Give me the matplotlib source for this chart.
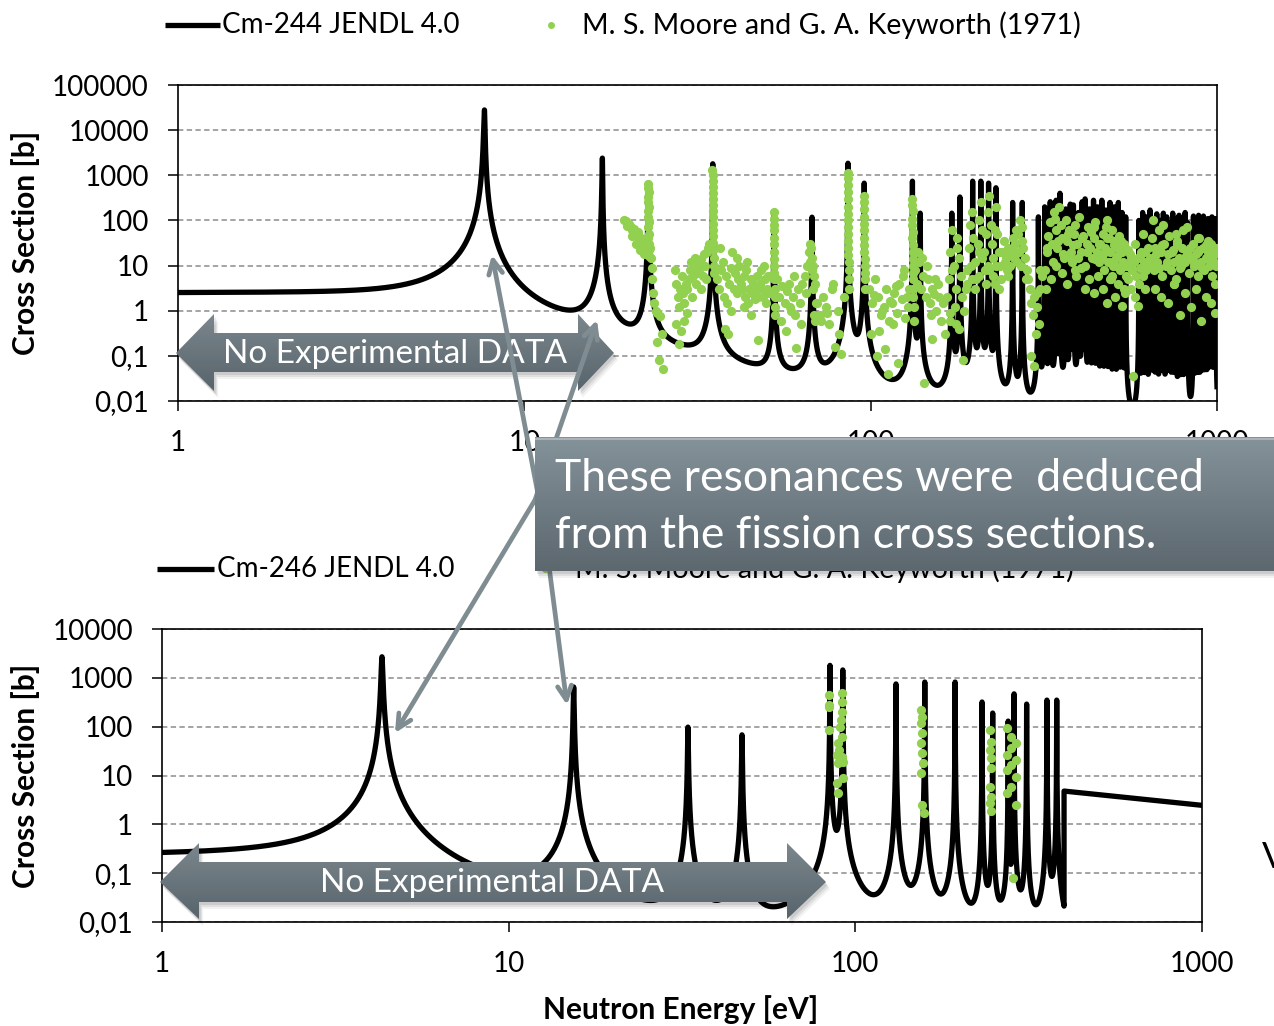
import numpy as np
import matplotlib
matplotlib.use("Agg")
import matplotlib.pyplot as plt
from matplotlib.patches import Polygon
from matplotlib.colors import LinearSegmentedColormap
from matplotlib.ticker import FixedLocator, FixedFormatter, NullLocator

plt.rcParams['font.family'] = ['Lato', 'DejaVu Sans']

# ---------------- data ----------------
x_ticks = [1, 10, 100, 1000]
x_labels = ['1', '10', '100', '1000']
top_y_ticks = [0.01, 0.1, 1, 10, 100, 1000, 10000, 100000]
top_y_labels = ['0,01', '0,1', '1', '10', '100', '1000', '10000', '100000']
bot_y_ticks = [0.01, 0.1, 1, 10, 100, 1000, 10000]
bot_y_labels = ['0,01', '0,1', '1', '10', '100', '1000', '10000']

# Cm-244 JENDL 4.0 resonances (energy eV, peak b, half width eV, right/left width ratio)
top_res_E = [7.67, 16.8, 22.8, 35.0, 52.6, 67.7, 86.0, 95.8, 132, 139, 171.5, 181, 197, 208, 219, 230,
             257, 274, 305, 318, 330, 343, 352, 366, 377, 385, 398, 408, 416, 428, 440, 452, 465, 478,
             491, 505, 519, 532, 545, 595, 610, 625, 641, 655, 670, 686, 700, 716, 730, 745, 760, 777,
             793, 809, 822, 855, 870, 885, 900, 914, 928, 942, 955, 967, 980, 992]
top_res_h = [28000, 2400, 670, 1800, 145, 118, 1850, 670, 740, 145, 145, 330, 740, 740, 670, 530,
             250, 250, 120, 200, 260, 280, 400, 180, 230, 220, 150, 260, 300, 180, 280, 200, 280, 170,
             250, 200, 250, 150, 120, 100, 150, 120, 170, 110, 140, 100, 145, 120, 90, 145, 110, 130,
             100, 150, 90, 125, 100, 130, 90, 125, 100, 110, 90, 120, 100, 110]
top_res_g = [0.030, 0.035, 0.035, 0.024, 0.045, 0.068, 0.049, 0.061, 0.052, 0.083, 0.083, 0.067, 0.052,
             0.052, 0.055, 0.053, 0.063, 0.063, 0.091, 0.071, 0.062, 0.060, 0.050, 0.075, 0.066, 0.067,
             0.082, 0.062, 0.058, 0.075, 0.060, 0.071, 0.060, 0.077, 0.063, 0.071, 0.063, 0.082, 0.091,
             0.100, 0.082, 0.091, 0.077, 0.095, 0.085, 0.100, 0.083, 0.091, 0.105, 0.083, 0.095, 0.088,
             0.100, 0.082, 0.105, 0.089, 0.100, 0.088, 0.105, 0.089, 0.100, 0.095, 0.105, 0.091, 0.100,
             0.095]
top_res_asym = [0.75, 0.7]
top_bg = (2.0, 6.0)   # plateau (b), roll-off energy (eV)

# Cm-246 JENDL 4.0 resonances
bot_res_E = [4.31, 15.4, 32.9, 47.1, 84.5, 92.0, 131, 158.6, 194, 232, 249, 276, 287, 312, 357, 381]
bot_res_h = [2700, 650, 98, 68, 1800, 1450, 750, 820, 820, 320, 190, 130, 470, 290, 350, 350]
bot_res_g = [0.0220, 0.039, 0.064, 0.086, 0.055, 0.059, 0.077, 0.078, 0.078, 0.079, 0.089, 0.107,
             0.080, 0.100, 0.131, 0.131]
bot_bg = (0.15, 3.5)
bot_res_end = 400.0
bot_tail_E = [400, 1000]
bot_tail_xs = [4.8, 2.45]

# M. S. Moore and G. A. Keyworth (1971) -- top panel, read cluster by cluster
mk_E1 = [19.4, 19.7, 19.9, 20.1, 20.3, 20.5, 20.7, 20.9, 21.1, 21.3, 21.5, 21.7, 21.9, 22.1, 22.3, 22.5,
         19.8, 20.4, 21.0, 21.6, 22.2]
mk_s1 = [100, 95, 80, 85, 70, 60, 65, 50, 45, 55, 35, 40, 30, 25, 35, 20, 75, 45, 30, 22, 18]
mk_E2 = [22.75, 22.8, 22.85, 22.8, 22.75, 22.85, 22.8, 22.75, 22.85, 22.8, 22.9, 22.8, 22.85, 22.9, 22.95]
mk_s2 = [650, 520, 420, 330, 260, 200, 160, 120, 90, 70, 50, 40, 30, 22, 16]
mk_E3 = [23.1, 23.2, 23.3, 23.4, 23.5, 23.7, 24.0, 24.2, 24.6, 25.0, 24.2, 24.5, 25.1]
mk_s3 = [25, 15, 9, 5, 2.5, 1.5, 1.0, 0.9, 0.75, 0.3, 0.2, 0.08, 0.05]
mk_E4 = [27.2, 27.5, 27.7, 28.0, 28.2, 28.5, 28.7, 29.0, 29.2, 29.5, 29.8, 30.0, 30.3, 30.6, 30.9, 31.2,
         31.5, 31.8, 32.1, 32.4, 32.7, 33.0, 33.3, 33.6, 33.9, 34.2, 27.4, 28.4, 29.4, 30.4, 31.4, 32.4,
         33.4, 27.9, 28.9]
mk_s4 = [8, 4, 2, 1.2, 3, 6, 2.5, 1.5, 4, 3, 5, 8, 12, 6, 10, 15, 7, 11, 9, 14, 6, 18, 10, 20, 25, 30,
         0.5, 0.35, 0.9, 2, 4, 3, 5, 0.18, 0.6]
mk_E5 = [34.9, 35.0, 35.05, 35.0, 34.95, 35.0, 35.05, 35.0, 34.95, 35.1, 35.0, 35.05, 35.1, 35.15, 35.2,
         35.25, 35.3]
mk_s5 = [1300, 1000, 750, 550, 400, 300, 220, 160, 120, 85, 60, 45, 32, 22, 15, 10, 7]
mk_E6 = [36.0, 36.5, 37.0, 37.4, 37.8, 38.2, 38.6, 39.0, 39.4, 39.8, 40.2, 40.6, 41.0, 41.4, 41.8, 42.2,
         42.6, 43.0, 43.4, 43.8, 44.2, 44.6, 45.0, 45.4, 45.8, 46.2, 46.6, 47.0, 47.4, 47.8, 48.2, 48.6,
         49.0, 49.4, 49.8, 50.2, 50.6, 51.0, 36.8, 38.0, 39.6, 41.2, 43.2, 45.2, 47.2, 49.2, 38.8, 44.0]
mk_s6 = [5, 3, 8, 12, 2, 6, 1.5, 4, 9, 20, 3, 7, 2.5, 5, 10, 4, 3, 6, 2, 8, 1.5, 3, 5, 2.5, 4, 1.8, 3,
         6, 2, 4, 8, 3, 2, 5, 1.5, 3, 6, 2.5, 25, 0.4, 1, 15, 1.2, 0.8, 0.22, 10, 0.3, 12]
mk_E7 = [52.5, 52.6, 52.65, 52.6, 52.55, 52.6, 52.7, 52.6, 52.65, 52.7, 52.75, 52.8, 52.85, 52.9, 53.0]
mk_s7 = [150, 110, 80, 60, 40, 30, 20, 14, 10, 7, 5, 3, 2, 1.2, 0.8]
mk_E8 = [53.5, 54.5, 55.5, 56.5, 57.5, 58.5, 59.5, 60.5, 61.5, 62.5, 63.5, 64.5, 65.5, 55.0, 57.0, 59.0,
         61.0, 63.0, 65.0, 58.0, 60.0]
mk_s8 = [5, 2, 3.5, 1.5, 2.8, 1.2, 2, 0.8, 3, 1.5, 4, 6, 10, 0.6, 0.35, 1, 0.15, 0.5, 2.5, 4, 6]
mk_E9 = [66.5, 67.0, 67.5, 68.0, 68.5, 69.0, 67.2, 67.8, 68.2, 66.8, 69.5, 68.8, 69.2]
mk_s9 = [20, 30, 15, 10, 6, 4, 25, 8, 3, 12, 1.5, 0.8, 0.6]
mk_E10 = [70, 71.5, 73, 74.5, 76, 77.5, 79, 80.5, 82, 83.5, 72, 75, 78, 81]
mk_s10 = [1.5, 0.8, 2, 1.2, 0.5, 3, 0.16, 1, 0.11, 2, 0.6, 0.9, 4, 0.3]
mk_E11 = [85.9, 86.0, 86.05, 86.0, 85.95, 86.0, 86.05, 86.1, 86.0, 86.1, 86.15, 86.2, 86.25, 86.3, 86.4,
          86.5, 86.6]
mk_s11 = [1150, 850, 600, 420, 300, 200, 140, 100, 70, 50, 35, 25, 17, 12, 8, 5, 3]
mk_E12 = [95.7, 95.8, 95.85, 95.8, 95.75, 95.85, 95.9, 95.8, 95.95, 96.0, 96.1, 96.2, 96.3, 96.5]
mk_s12 = [350, 250, 180, 120, 85, 60, 40, 28, 20, 14, 10, 7, 5, 3]
mk_E13 = [99, 101, 103, 105, 107, 109, 111, 113, 115, 117, 119, 121, 123, 125, 127, 129, 100, 104, 108,
          112, 116, 120, 124, 128, 102, 110, 118, 126, 106, 114]
mk_s13 = [3, 1.5, 5, 2, 0.8, 1.2, 3, 0.6, 1.5, 2.5, 0.9, 4, 1.8, 8, 2, 3, 0.3, 0.1, 1, 0.04, 0.5, 0.07,
          6, 1.2, 2.2, 0.14, 3.5, 0.7, 0.35, 1.6]
mk_E14 = [131.9, 132.0, 132.1, 132.0, 131.9, 132.1, 132.0, 132.2, 132.1, 132.3, 132.2, 132.4, 132.5,
          132.6, 132.8, 133.0, 133.3]
mk_s14 = [300, 220, 160, 110, 80, 55, 40, 28, 20, 14, 10, 7, 5, 3, 2, 1.2, 0.6]
mk_E15 = [134, 136, 138, 140, 142, 144, 146, 148, 150, 152, 154, 156, 158, 160, 162, 164, 137, 141, 145,
          149, 153, 143, 150]
mk_s15 = [8, 4, 12, 3, 6, 2, 5, 1.5, 3, 2.4, 1, 4, 2, 0.6, 1.5, 0.3, 20, 15, 10, 0.8, 5, 0.025, 0.24]
mk_E16 = [166, 168, 170, 172, 174, 176, 178, 180, 182, 184, 186, 188, 190, 192, 194, 196, 198, 200, 202,
          204, 206, 208, 210, 212, 214, 216, 218, 220, 222, 224, 226, 228, 230, 232, 234, 236, 238, 170,
          175, 180, 185, 190, 195, 200, 205, 210, 215, 220, 225, 230, 235, 172, 178, 196, 206, 218, 228,
          176, 169]
mk_s16 = [2, 5, 20, 60, 10, 3, 40, 15, 6, 2, 1, 3, 8, 25, 80, 150, 40, 12, 5, 30, 100, 250, 60, 20, 8,
          50, 150, 350, 80, 30, 15, 60, 200, 50, 20, 10, 5, 0.6, 1.2, 0.4, 0.08, 4, 10, 3, 6, 15, 4, 8,
          6, 10, 3, 8, 25, 5, 20, 10, 4, 0.5, 0.9]
mk_E17 = [240, 243, 246, 249, 252, 255, 258, 261, 264, 267, 270, 273, 276, 279, 282, 244, 250, 256, 262,
          268, 274, 280, 247, 259, 271]
mk_s17 = [20, 35, 15, 25, 10, 18, 40, 30, 12, 50, 100, 70, 25, 15, 8, 12, 6, 22, 60, 20, 35, 5, 8, 15,
          10]
mk_E18 = [285, 288, 291, 294, 297, 300, 303, 306, 309, 312, 290, 296, 302, 308]
mk_s18 = [5, 3, 1.5, 0.8, 2, 0.3, 1.2, 0.5, 3, 6, 0.1, 0.06, 2.5, 8]
mk_E19 = [318, 322, 326, 330, 334, 338, 342, 346, 350, 354, 358, 362, 366, 370, 374, 378, 382, 386, 390,
          395, 400, 405, 410, 415, 420, 425, 430, 435, 440, 445, 450, 455, 320, 332, 344, 356, 368, 380,
          392, 404, 416, 428, 440, 452]
mk_s19 = [8, 20, 45, 90, 30, 150, 60, 25, 200, 80, 40, 15, 100, 35, 60, 20, 12, 50, 80, 30, 120, 20, 45,
          10, 30, 70, 25, 15, 40, 90, 20, 12, 3, 5, 10, 7, 4, 15, 6, 9, 3, 5, 2.5, 6]
mk_E20 = [460, 464, 468, 472, 476, 480, 484, 488, 492, 496, 500, 505, 510, 515, 520, 525, 530, 535, 540,
          545, 470, 482, 494, 506, 518, 530, 542, 478, 498, 512]
mk_s20 = [30, 15, 50, 8, 25, 100, 12, 40, 20, 60, 10, 35, 15, 25, 45, 8, 20, 12, 30, 6, 3, 1.5, 5, 2, 4,
          1.3, 2.5, 70, 6, 10]
mk_E21 = [550, 555, 560, 565, 570, 575, 580, 585, 590, 595, 600, 605, 610, 615, 620, 625, 630, 635, 572,
          590]
mk_s21 = [10, 5, 18, 3, 8, 12, 2, 6, 15, 4, 9, 20, 6, 12, 3, 8, 25, 10, 0.035, 1.3]
mk_E22 = [640, 648, 656, 664, 672, 680, 688, 696, 704, 712, 720, 728, 736, 744, 752, 760, 768, 776, 784,
          792, 800, 810, 820, 830, 840, 850, 860, 870, 880, 890, 900, 910, 920, 930, 940, 950, 960, 970,
          980, 990, 1000, 660, 690, 720, 750, 780, 810, 840, 870, 900, 930, 960, 990, 700, 760, 820, 880,
          940, 985, 655]
mk_s22 = [15, 40, 8, 25, 12, 60, 20, 6, 30, 10, 18, 45, 8, 22, 12, 5, 35, 15, 9, 25, 60, 12, 20, 7, 15,
          30, 10, 18, 6, 40, 12, 25, 8, 15, 20, 10, 30, 6, 12, 18, 25, 3, 2, 1.5, 4, 0.8, 2.5, 1.2, 3, 0.6,
          2, 1.5, 4, 80, 50, 70, 40, 35, 0.9, 100]
mk_E23 = [324, 336, 348, 360, 372, 384, 396, 408, 420, 432, 444, 456, 468, 480, 492, 504, 516, 528, 540,
          552, 564, 580, 600, 620, 644, 668, 692, 716, 740, 764, 788, 812, 836, 860, 884, 908, 932, 956,
          980, 995, 340, 390, 440, 490, 540, 610, 680, 750, 820, 890, 960]
mk_s23 = [25, 12, 35, 18, 50, 28, 15, 40, 20, 55, 14, 30, 18, 40, 12, 28, 16, 35, 10, 22, 14, 30, 16,
          20, 10, 18, 28, 12, 20, 30, 10, 16, 25, 12, 20, 9, 28, 14, 22, 10, 110, 8, 70, 5, 3, 50, 9, 4,
          18, 22, 12]

# M. S. Moore and G. A. Keyworth (1971) -- bottom panel
mkb_E = [84.0, 84.1, 84.0, 84.1,
         91.3, 91.3, 91.5, 91.0, 90.6, 91.5, 89.2, 89.5, 88.3, 91.3, 92.2, 89.2, 92.2, 88.6, 89.2,
         155, 156, 155, 156, 155, 156, 157, 155, 156, 158,
         245, 247, 245, 247, 246, 245, 247, 245, 246,
         273, 282, 291, 282, 273, 291, 282, 273, 291, 282, 273, 291, 285]
mkb_s = [445, 276, 250, 85,
         490, 316, 198, 136, 98, 61, 46, 33, 26, 24, 19, 18, 8.9, 7, 4.4,
         218, 158, 118, 74, 46, 29, 18, 11.2, 2.5, 1.7,
         85, 48, 33, 23, 14, 5.8, 3.6, 2.7, 1.9,
         93, 61, 46, 36, 26, 21, 16.5, 13, 9.3, 5.8, 4.4, 2.5, 0.08]

# ---------------- model curve from the resonance table ----------------
def resonance_curve(E, Er, h, g, asym, bg):
    b0, ec = bg
    s = b0 / (1.0 + (E / ec) ** 2)
    asym_full = list(asym) + [1.0] * (len(Er) - len(asym))
    for Ei, hi, gi, ai in zip(Er, h, g, asym_full):
        gg = np.where(E < Ei, gi, gi * ai)
        s = s + hi * gg ** 2 / ((E - Ei) ** 2 + gg ** 2)
    return s

E_top = np.unique(np.concatenate([np.logspace(0, 3, 90000), np.array(top_res_E)]))
xs_top = resonance_curve(E_top, top_res_E, top_res_h, top_res_g, top_res_asym, top_bg)

E_bot = np.logspace(0, np.log10(bot_res_end), 80000)
E_bot = np.unique(np.concatenate([E_bot, np.array(bot_res_E)]))
xs_bot = resonance_curve(E_bot, bot_res_E, bot_res_h, bot_res_g, [], bot_bg)
E_bot_all = np.concatenate([E_bot, bot_tail_E])
xs_bot_all = np.concatenate([xs_bot, bot_tail_xs])

top_mk_E = np.concatenate([mk_E1, mk_E2, mk_E3, mk_E4, mk_E5, mk_E6, mk_E7, mk_E8, mk_E9, mk_E10, mk_E11,
                           mk_E12, mk_E13, mk_E14, mk_E15, mk_E16, mk_E17, mk_E18, mk_E19, mk_E20,
                           mk_E21, mk_E22, mk_E23])
top_mk_s = np.concatenate([mk_s1, mk_s2, mk_s3, mk_s4, mk_s5, mk_s6, mk_s7, mk_s8, mk_s9, mk_s10, mk_s11,
                           mk_s12, mk_s13, mk_s14, mk_s15, mk_s16, mk_s17, mk_s18, mk_s19, mk_s20,
                           mk_s21, mk_s22, mk_s23])

# ---------------- figure ----------------
W, H = 1274, 1026
fig = plt.figure(figsize=(W / 100, H / 100), dpi=100)
fig.patch.set_facecolor('white')

def px_axes(l, t, r, b, z=1):
    return fig.add_axes([l / W, 1 - b / H, (r - l) / W, (b - t) / H], zorder=z)

GREEN = '#92d050'
GRID = '#8c8c8c'
LW = 3.8
MS = 44

def style(ax, yticks, ylabels):
    ax.set_xscale('log')
    ax.set_yscale('log')
    ax.set_xlim(1, 1000)
    ax.set_ylim(yticks[0], yticks[-1])
    ax.xaxis.set_major_locator(FixedLocator(x_ticks))
    ax.xaxis.set_major_formatter(FixedFormatter(x_labels))
    ax.yaxis.set_major_locator(FixedLocator(yticks))
    ax.yaxis.set_major_formatter(FixedFormatter(ylabels))
    ax.xaxis.set_minor_locator(NullLocator())
    ax.yaxis.set_minor_locator(NullLocator())
    ax.tick_params(which='major', direction='out', length=7, width=1.1, pad=14,
                   labelsize=20, colors='black')
    ax.yaxis.grid(True, color=GRID, lw=1.1, ls=(0, (3.5, 2.2)))
    ax.set_axisbelow(True)
    for sp in ax.spines.values():
        sp.set_linewidth(1.2)
        sp.set_color('black')
    ax.set_facecolor('none')

ax1 = px_axes(178, 85, 1217, 401)
style(ax1, top_y_ticks, top_y_labels)
ax1.plot(E_top, xs_top, color='black', lw=LW, solid_joinstyle='round', zorder=2)
ax1.scatter(top_mk_E, top_mk_s, s=MS, color=GREEN, linewidths=0, zorder=3)

ax2 = px_axes(162, 629, 1202, 922)
style(ax2, bot_y_ticks, bot_y_labels)
ax2.plot(E_bot_all, xs_bot_all, color='black', lw=LW, solid_joinstyle='round', zorder=2)
ax2.scatter(mkb_E, mkb_s, s=MS, color=GREEN, linewidths=0, zorder=3)

# ---------------- overlay (pixel coordinates) ----------------
ov = fig.add_axes([0, 0, 1, 1], zorder=10)
ov.set_facecolor('none')
ov.axis('off')

def grad_poly(verts, c_top, c_bot, z, shadow=True):
    verts = np.asarray(verts, dtype=float)
    if shadow:
        for k, a in [(7, 0.05), (5, 0.07), (3, 0.09)]:
            ov.add_patch(Polygon(verts + [k * 0.6, k], closed=True, fc='black', ec='none',
                                 alpha=a, zorder=z - 0.1))
    poly = Polygon(verts, closed=True, fc='none', ec='none', zorder=z)
    ov.add_patch(poly)
    x0, x1 = verts[:, 0].min(), verts[:, 0].max()
    y0, y1 = verts[:, 1].min(), verts[:, 1].max()
    cmap = LinearSegmentedColormap.from_list('g', [c_top, c_bot])
    im = ov.imshow(np.linspace(0, 1, 256).reshape(-1, 1), extent=(x0, x1, y1, y0), cmap=cmap,
                   aspect='auto', origin='upper', zorder=z, interpolation='bilinear')
    im.set_clip_path(poly)

def double_arrow(xl, xlb, xrb, xr, yc, head_t, head_b, body_t, body_b):
    return [(xl, yc), (xlb, head_t), (xlb, body_t), (xrb, body_t), (xrb, head_t), (xr, yc),
            (xrb, head_b), (xrb, body_b), (xlb, body_b), (xlb, head_b)]

# legends
ov.plot([165, 220], [25, 25], color='black', lw=LW, solid_capstyle='butt', zorder=2)
ov.text(222, 25, 'Cm-244 JENDL 4.0', fontsize=20, va='center', ha='left', zorder=2)
ov.plot([551], [25], 'o', ms=5, color=GREEN, mec='none', zorder=2)
ov.text(582, 25, 'M. S. Moore and G. A. Keyworth (1971)', fontsize=20.6, va='center', ha='left', zorder=2)
ov.plot([157, 214], [569, 569], color='black', lw=LW, solid_capstyle='butt', zorder=2)
ov.text(217, 569, 'Cm-246 JENDL 4.0', fontsize=20, va='center', ha='left', zorder=2)
ov.plot([545], [569], 'o', ms=5, color=GREEN, mec='none', zorder=2)
ov.text(575, 569, 'M. S. Moore and G. A. Keyworth (1971)', fontsize=20.6, va='center', ha='left', zorder=2)

# axis titles
for yc in (243, 776):
    ov.text(26, yc, 'Cross Section [b]', fontsize=21.5, fontweight='bold', rotation=90,
            va='center', ha='center', zorder=2)
ov.text(681, 1010, 'Neutron Energy [eV]', fontsize=21.5, fontweight='bold', va='center', ha='center',
        zorder=2)
ov.text(1262, 858, 'V', fontsize=26, va='center', ha='left', zorder=2, clip_on=True)

# "No Experimental DATA" double arrows
grad_poly(double_arrow(176, 214, 578, 614, 353, 314, 391, 333, 372), '#7b878d', '#58646b', 4)
ov.text(395, 354, 'No Experimental DATA', fontsize=24, color='white', va='center', ha='center', zorder=5)
grad_poly(double_arrow(160, 199, 787, 826, 882, 843, 919, 862, 902), '#7b878d', '#58646b', 4)
ov.text(492, 883, 'No Experimental DATA', fontsize=24, color='white', va='center', ha='center', zorder=5)

# pointer arrows
PCOL = '#7f8d92'
for (sx, sy), (tx, ty) in [((543, 520), (492, 255)), ((535, 500), (597, 320)),
                           ((535, 500), (395, 733)), ((543, 520), (567, 705))]:
    ov.annotate('', xy=(tx, ty), xytext=(sx, sy), xycoords='data', textcoords='data',
                arrowprops=dict(arrowstyle='->,head_length=1.0,head_width=0.5', color=PCOL,
                                lw=3.4, shrinkA=0, shrinkB=0), zorder=6)

# callout box
grad_poly([(535, 437), (1290, 437), (1290, 571), (535, 571)], '#84929a', '#5c676e', 8)
ov.plot([536, 1280], [438.5, 438.5], color='#a9b4b9', lw=1.5, zorder=8.5)
ov.text(555, 491, 'These resonances were  deduced', fontsize=32, color='white', va='baseline',
        ha='left', zorder=9)
ov.text(555, 548, 'from the fission cross sections.', fontsize=32, color='white', va='baseline',
        ha='left', zorder=9)

ov.set_xlim(0, W)
ov.set_ylim(H, 0)

fig.savefig('out.png', dpi=100, facecolor='white')
